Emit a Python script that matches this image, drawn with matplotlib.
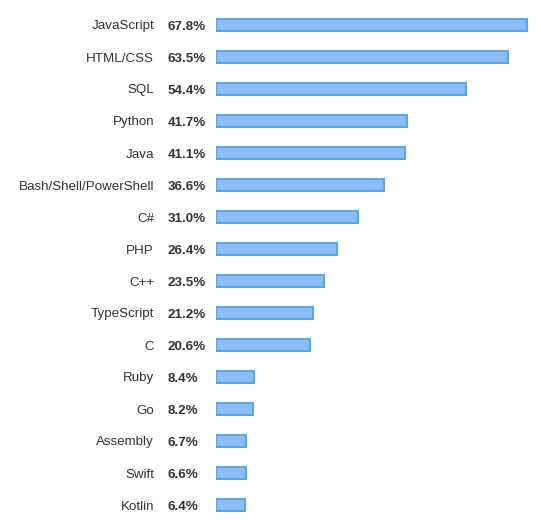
import matplotlib
matplotlib.use("Agg")
import matplotlib.pyplot as plt

languages = ["JavaScript", "HTML/CSS", "SQL", "Python", "Java",
             "Bash/Shell/PowerShell", "C#", "PHP", "C++", "TypeScript",
             "C", "Ruby", "Go", "Assembly", "Swift", "Kotlin"]
shares = [67.8, 63.5, 54.4, 41.7, 41.1, 36.6, 31.0, 26.4, 23.5, 21.2,
          20.6, 8.4, 8.2, 6.7, 6.6, 6.4]

plt.rcParams["font.family"] = ["Liberation Sans", "DejaVu Sans"]

W, H, dpi = 541, 523, 100
fig = plt.figure(figsize=(W / dpi, H / dpi), dpi=dpi)

left_px = 215.5
scale = 4.6      # pixels per percent
row0, step = 25, 32
ax = fig.add_axes([left_px / W, 0, 1 - left_px / W, 1])
ax.set_xlim(0, (W - left_px) / scale)
ax.set_ylim((H - row0) / step, -row0 / step)
ax.axis("off")

ypos = list(range(len(languages)))
ax.barh(ypos, shares, height=11.5 / step, left=0,
        color="#8bbef6", edgecolor="#59a5ef", linewidth=1.5)

for y, name, v in zip(ypos, languages, shares):
    ax.annotate(name, xy=(0, y), xytext=(154 - left_px, 0),
                textcoords="offset pixels", ha="right", va="center_baseline",
                fontsize=9.6, color="#333333", annotation_clip=False)
    ax.annotate(f"{v:.1f}%", xy=(0, y), xytext=(167.5 - left_px, 0),
                textcoords="offset pixels", ha="left", va="center_baseline",
                fontsize=9.6, fontweight="bold", color="#333333",
                annotation_clip=False)

fig.savefig("out.png", dpi=dpi)
